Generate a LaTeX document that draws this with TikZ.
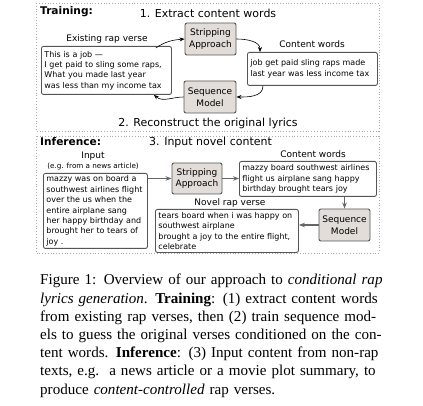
\documentclass[tikz,border=0pt]{standalone}
\usepackage{fontspec}
\setmainfont{Liberation Serif}
\newfontfamily\djv{DejaVu Sans}
\usetikzlibrary{arrows.meta}
\definecolor{boxgray}{HTML}{E2DDD9}
\definecolor{edgegray}{HTML}{555555}
\definecolor{framegray}{HTML}{AAAAAA}
\tikzset{
  frame/.style={draw=framegray, dotted, line width=0.8pt},
  txtbox/.style={draw=edgegray, line width=0.9pt, rounded corners=2pt, fill=white,
    inner xsep=3pt, inner ysep=2pt, align=left, anchor=north west,
    font=\djv\fontsize{8}{10.4}\selectfont},
  procbox/.style={draw=edgegray, line width=0.9pt, rounded corners=2pt, fill=boxgray,
    inner sep=0pt, align=center, font=\djv\fontsize{9}{11.5}\selectfont},
  lbl/.style={font=\djv\fontsize{9}{10}\selectfont, inner sep=0pt},
  small/.style={font=\djv\fontsize{7.2}{8}\selectfont, inner sep=0pt},
  title/.style={font=\djv\fontsize{11}{12}\selectfont, inner sep=0pt},
  head/.style={font=\djv\bfseries\fontsize{10.6}{12}\selectfont, inner sep=0pt, anchor=west},
  curv/.style={-{Stealth[length=5pt,width=4pt]}, line width=0.6pt, black},
  flow/.style={-{Stealth[length=6pt,width=4.5pt]}, line width=1.1pt, draw=gray!80!black},
}
\begin{document}
\begin{tikzpicture}[x=1pt,y=-1pt]
\useasboundingbox (0,0) rectangle (423,406);
% frames
\draw[frame] (36,3) rectangle (379,131);
\draw[frame] (36,136) rectangle (379,253);

% Training
\node[head] (trh) at (40,12) {Training:};
\node[title] (t1) at (208,13) {1. Extract content words};
\node[lbl] (evl) at (107,39) {Existing rap verse};
\node[txtbox, text width=124pt, minimum height=48pt] (verse) at (41,46)
  {This is a job —\\I get paid to sling some raps,\\What you made last year\\was less than my income tax};
\node[procbox, minimum width=51pt, minimum height=32pt] (strip1) at (210.5,39) {Stripping\\Approach};
\node[lbl] (cwl) at (312,44) {Content words};
\node[txtbox, text width=124pt, minimum height=33pt] (cw1) at (247,52)
  {job get paid sling raps made\\last year was less income tax};
\node[procbox, minimum width=52pt, minimum height=32pt] (seq1) at (210,97) {Sequence\\Model};
\node[title] (t2) at (208,123) {2. Reconstruct the original lyrics};

\draw[curv] ([xshift=-16pt,yshift=-2pt]verse.north east) to[out=35,in=185] (strip1.west);
\draw[curv] (strip1.east) to[out=0,in=90] ([xshift=13pt]cw1.north west);
\draw[curv] ([xshift=16pt]cw1.south west) to[out=-90,in=0] (seq1.east);
\draw[curv] (seq1.west) to[out=180,in=-40] ([xshift=-18pt]verse.south east);

% Inference
\node[head] (inh) at (40,142) {Inference:};
\node[title] (t3) at (210.5,142) {3. Input novel content};
\node[lbl] (inl) at (93,156) {Input};
\node[small] (inl2) at (93,167) {(e.g. from a news article)};
\node[txtbox, text width=98pt, minimum height=75pt] (inp) at (43,173)
  {mazzy was on board a\\southwest airlines flight\\over the us when the\\entire airplane sang\\her happy birthday and\\brought her to tears of\\joy .};
\node[procbox, minimum width=50pt, minimum height=31pt] (strip2) at (197,178.5) {Stripping\\Approach};
\node[lbl] (cwl2) at (313,154) {Content words};
\node[txtbox, text width=131pt, minimum height=35pt] (cw2) at (239,161)
  {mazzy board southwest airlines\\flight us airplane sang happy\\birthday brought tears joy};
\node[procbox, minimum width=51pt, minimum height=32pt] (seq2) at (344.5,225) {Sequence\\Model};
\node[lbl] (nvl) at (230,203) {Novel rap verse};
\node[txtbox, text width=137pt, minimum height=43pt] (novel) at (155,209)
  {tears board when i was happy on\\southwest airplane\\brought a joy to the entire flight,\\celebrate};

\draw[flow] (inp.east |- strip2.west) -- (strip2.west);
\draw[flow] (strip2.east) -- (cw2.west |- strip2.east);
\draw[flow] (cw2.south -| seq2.north) -- (seq2.north);
\draw[flow] (seq2.west) -- (novel.east |- seq2.west);

% Caption
\node[anchor=north west, inner sep=0pt, text width=330pt,
  font=\fontsize{15.07}{18.2}\selectfont] (cap) at (40,274) {%
\hbox to 330pt{Figure 1: Overview of our approach to \textit{conditional rap}}\par
\hbox to 330pt{\textit{lyrics generation}. \textbf{Training}: (1) extract content words}\par
\hbox to 330pt{from existing rap verses, then (2) train sequence mod-}\par
\hbox to 330pt{els to guess the original verses conditioned on the con-}\par
\hbox to 330pt{tent words. \textbf{Inference}: (3) Input content from non-rap}\par
\hbox to 330pt{texts, e.g.\ \ a news article or a movie plot summary, to}\par
\hbox{produce \textit{content-controlled} rap verses.}};
\end{tikzpicture}
\end{document}
